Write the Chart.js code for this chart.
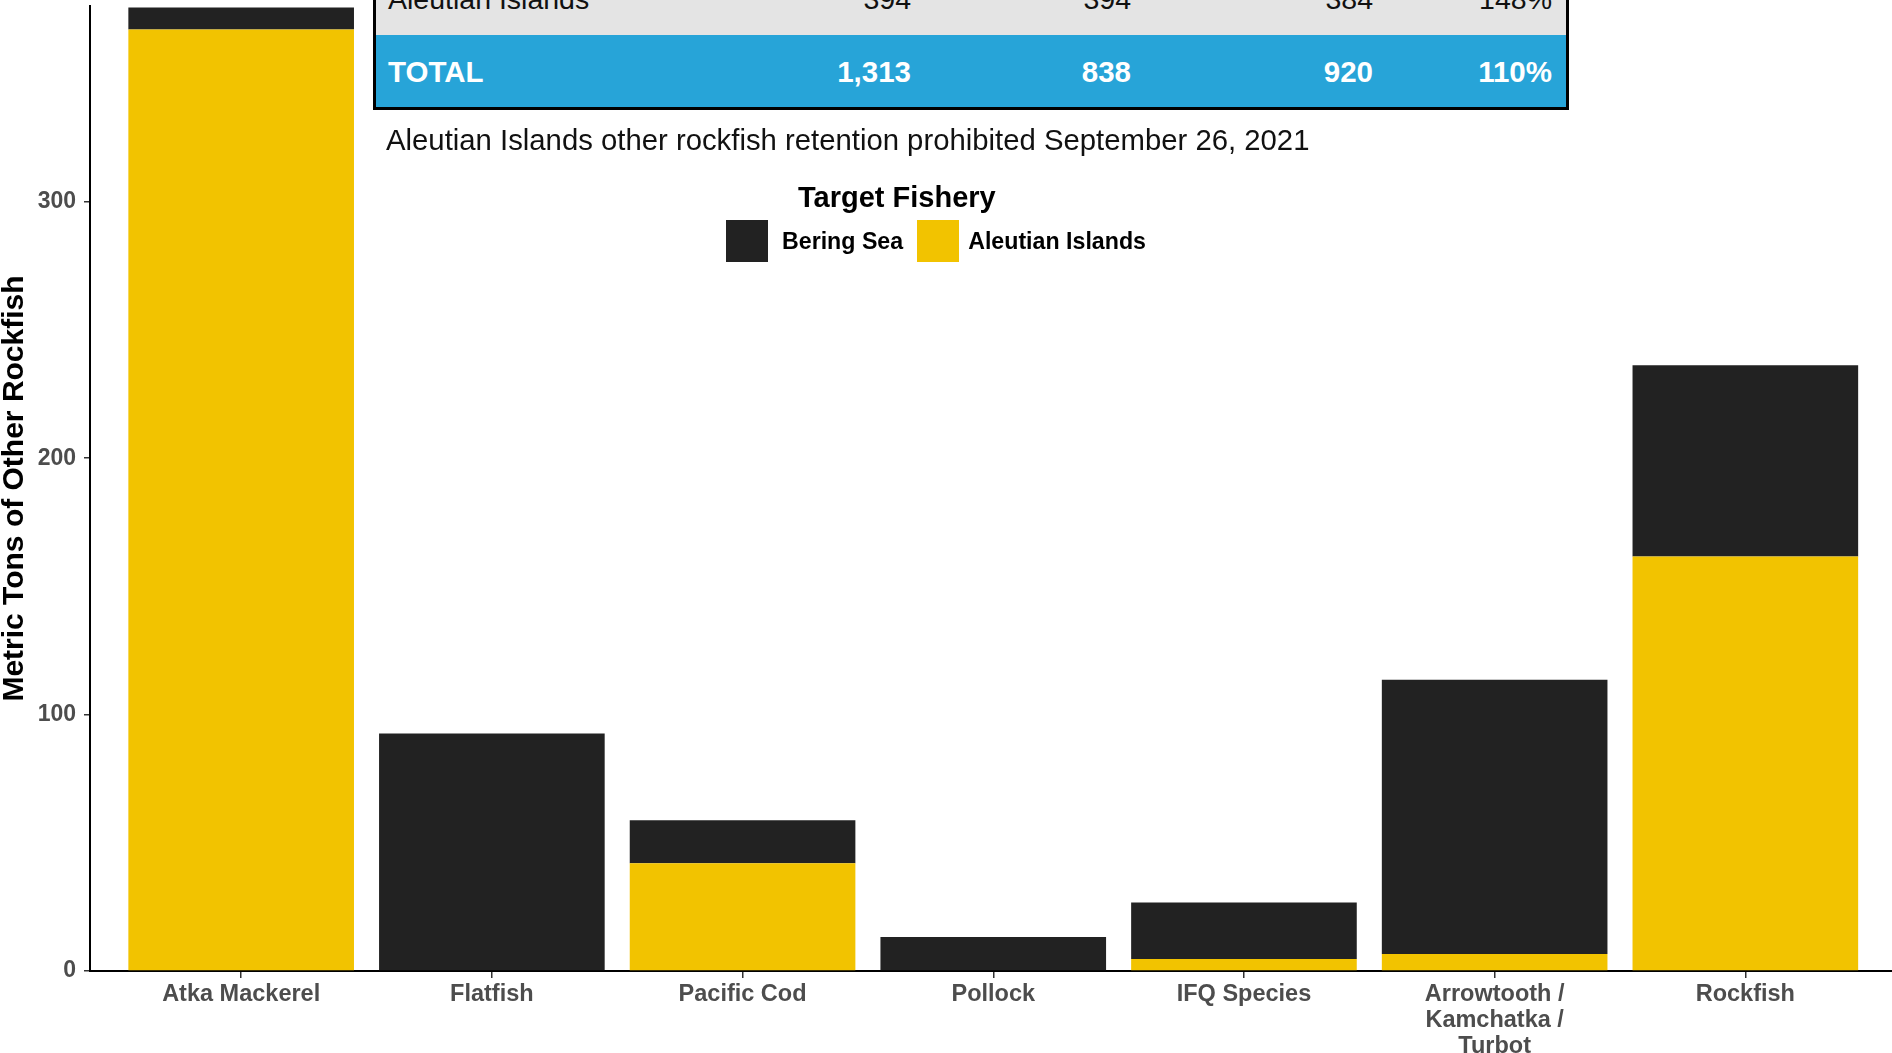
<!DOCTYPE html>
<html>
<head>
<meta charset="utf-8">
<script src="https://cdn.jsdelivr.net/npm/chart.js@4.4.1/dist/chart.umd.min.js"></script>
<style>
  body { margin: 0; background: #fff; font-family: "Liberation Sans", Arial, sans-serif; }
  #wrap { position: relative; width: 1892px; height: 1053px; overflow: hidden; }
  #tbl { position: absolute; left: 373px; top: -44px; width: 1196px; border: 3px solid #000; box-sizing: border-box; z-index: 2; }
  .row { display: flex; align-items: center; font-size: 28.5px; line-height: 28px; box-sizing: border-box; }
  .row div { box-sizing: border-box; text-align: right; padding-right: 14px; }
  .row div:first-child { text-align: left; padding-left: 12px; }
  .r1 { height: 76px; background: #e4e4e4; color: #111; padding-top: 4px; }
  .r2 { height: 72px; background: #27a4d8; color: #fff; font-weight: bold; font-size: 29.5px; padding-top: 2px; }
  #note { position: absolute; left: 386px; top: 126px; font-size: 29.3px; line-height: 28px; color: #111; z-index: 2; }
  #legend { position: absolute; left: 726px; top: 182px; z-index: 2; }
  #legend .ttl { font-weight: bold; font-size: 29px; margin-left: 72px; height: 38px; line-height: 30px; }
  #legend .items { display: flex; align-items: center; }
  #legend .key { width: 42px; height: 42px; margin-right: 14px; }
  #legend .key + .lbl + .key { margin-right: 9px; }
  #legend .lbl { font-weight: bold; font-size: 23.2px; margin-right: 14px; }
</style>
</head>
<body>
<div id="wrap">
  <canvas id="chart" width="1892" height="1053"></canvas>
  <div id="tbl"></div>
  <div id="note"></div>
  <div id="legend"></div>
</div>
<script>
// categories along x
const categories = ['Atka Mackerel', 'Flatfish', 'Pacific Cod', 'Pollock', 'IFQ Species',
  ['Arrowtooth /', 'Kamchatka /', 'Turbot'], 'Rockfish'];
// metric tons by target fishery area
const aleutianTons = [367.2, 0, 42, 0, 4.7, 6.6, 161.7];
const beringTons = [8.6, 92.6, 16.8, 13.3, 22, 107, 74.6];
const yTicks = [0, 100, 200, 300];

// summary table (top row is cut off in the picture)
const tableCols = [328, 221, 220, 242, 179];
const aleutianRow = ['Aleutian Islands', '394', '394', '384', '148%'];
const totalRow = ['TOTAL', '1,313', '838', '920', '110%'];
const noteText = 'Aleutian Islands other rockfish retention prohibited September 26, 2021';

const tickFont = { family: 'Liberation Sans, Arial', weight: 'bold', size: 23 };

const ctx = document.getElementById('chart');

const myChart = new Chart(ctx, {
  type: 'bar',
  data: {
    datasets: [{
      label: 'Aleutian Islands',
      data: aleutianTons.map((v, i) => ({ x: i, y: v })),
      backgroundColor: '#f2c300'
    }, {
      label: 'Bering Sea',
      data: beringTons.map((v, i) => ({ x: i, y: v })),
      backgroundColor: '#222222'
    }]
  },
  options: {
    responsive: false,
    animation: false,
    layout: { padding: { top: 6, left: 0, right: 0, bottom: 0 } },
    datasets: { bar: { categoryPercentage: 1, barPercentage: 0.9 } },
    plugins: { legend: { display: false }, tooltip: { enabled: false } },
    scales: {
      x: {
        type: 'linear',
        stacked: true,
        offset: false,
        min: -0.603,
        max: 6.585,
        afterBuildTicks: (scale) => { scale.ticks = categories.map((c, i) => ({ value: i })); },
        afterFit: (scale) => {
          scale.height = 82;
          scale.paddingLeft = 0;
          scale.paddingRight = 0;
        },
        ticks: {
          callback: (v) => categories[v],
          color: '#4d4d4d',
          font: { ...tickFont, size: 23.5, lineHeight: 1.1 },
          padding: 4,
          maxRotation: 0,
          autoSkip: false
        },
        grid: { offset: false, drawOnChartArea: false, tickLength: 7, color: '#333', lineWidth: 1.5 },
        border: { display: true, color: '#000', width: 2 }
      },
      y: {
        stacked: true,
        min: 0,
        max: 376.4,
        afterBuildTicks: (scale) => { scale.ticks = yTicks.map(v => ({ value: v })); },
        afterFit: (scale) => {
          scale.width = 90;
          scale.paddingTop = 0;
          scale.paddingBottom = 0;
        },
        ticks: { color: '#4d4d4d', font: tickFont, padding: 8 },
        grid: { drawOnChartArea: false, tickLength: 6, color: '#333', lineWidth: 1.5 },
        border: { display: true, color: '#000', width: 2 },
        title: {
          display: true,
          text: 'Metric Tons of Other Rockfish',
          color: '#000',
          font: { family: 'Liberation Sans, Arial', weight: 'bold', size: 30, lineHeight: 1 },
          padding: 0
        }
      }
    }
  }
});

// table + note
function makeRow(cls, cells) {
  const r = document.createElement('div');
  r.className = 'row ' + cls;
  cells.forEach((t, i) => {
    const c = document.createElement('div');
    c.style.width = tableCols[i] + 'px';
    c.textContent = t;
    r.appendChild(c);
  });
  return r;
}
const tbl = document.getElementById('tbl');
tbl.appendChild(makeRow('r1', aleutianRow));
tbl.appendChild(makeRow('r2', totalRow));
document.getElementById('note').textContent = noteText;

// legend, Bering Sea first
const lg = document.getElementById('legend');
lg.innerHTML = '<div class="ttl">Target Fishery</div><div class="items"></div>';
const items = lg.querySelector('.items');
myChart.data.datasets.slice().reverse().forEach((ds) => {
  const k = document.createElement('div');
  k.className = 'key';
  k.style.background = ds.backgroundColor;
  const l = document.createElement('div');
  l.className = 'lbl';
  l.textContent = ds.label;
  items.appendChild(k);
  items.appendChild(l);
});
</script>
</body>
</html>
